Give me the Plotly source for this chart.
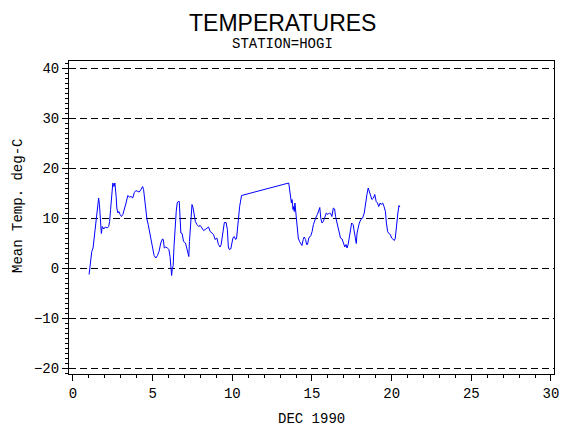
import plotly.graph_objects as go

# Mean temperature, station HOGI, December 1990
days = [
    1.01, 1.06, 1.10, 1.18, 1.26, 1.32, 1.37, 1.43, 1.47, 1.53, 1.61, 1.66, 1.68, 1.72,
    1.78, 1.84, 1.93, 2.03, 2.15, 2.24, 2.30, 2.36, 2.42, 2.50, 2.57, 2.63, 2.71, 2.75,
    2.82, 2.88, 2.96, 3.04, 3.13, 3.23, 3.33, 3.44, 3.54, 3.64, 3.75, 3.85, 3.95, 4.06,
    4.16, 4.27, 4.37, 4.43, 4.51, 4.58, 4.64, 4.72, 4.78, 4.89, 4.99, 5.09, 5.20, 5.30,
    5.40, 5.51, 5.61, 5.67, 5.73, 5.82, 5.92, 6.02, 6.09, 6.15, 6.19, 6.23, 6.29, 6.34,
    6.40, 6.48, 6.54, 6.60, 6.67, 6.71, 6.77, 6.85, 6.94, 7.06, 7.14, 7.23, 7.27, 7.31,
    7.39, 7.47, 7.54, 7.60, 7.68, 7.78, 7.89, 7.99, 8.10, 8.20, 8.30, 8.41, 8.51,
    8.61, 8.72, 8.82, 8.92, 9.03, 9.13, 9.23, 9.30, 9.38, 9.44, 9.50, 9.61, 9.69, 9.75,
    9.81, 9.90, 9.96, 10.04, 10.12, 10.21, 10.27, 10.33, 10.39, 10.46, 10.52, 10.58,
    13.54, 13.58, 13.64, 13.71, 13.75, 13.81, 13.85, 13.89, 13.93, 14.00, 14.06, 14.14,
    14.22, 14.31, 14.37, 14.45, 14.51, 14.60, 14.66, 14.72, 14.80, 14.93, 15.01, 15.09,
    15.18, 15.26, 15.34, 15.42, 15.49, 15.55, 15.63, 15.71, 15.80, 15.90, 16.00, 16.09,
    16.17, 16.25, 16.34, 16.42, 16.48, 16.58, 16.69, 16.79, 16.89, 17.00, 17.06, 17.14,
    17.20, 17.27, 17.33, 17.41, 17.49, 17.58, 17.66, 17.72, 17.78, 17.83, 17.89, 17.97,
    18.07, 18.18, 18.28, 18.36, 18.45, 18.53, 18.59, 18.67, 18.76, 18.86, 18.94, 19.03,
    19.11, 19.19, 19.28, 19.34, 19.44, 19.52, 19.61, 19.67, 19.75, 19.83, 19.92, 20.00,
    20.08, 20.17, 20.23, 20.31, 20.39, 20.46, 20.52,
]
temps = [
    -1.3, 0.3, 1.7, 3.3, 4.0, 5.7, 7.3, 9.8, 11.0, 13.0, 14.0, 12.7, 11.7, 10.0,
    6.9, 8.3, 7.8, 8.2, 8.0, 8.3, 9.3, 11.7, 14.3, 17.0, 16.3, 17.0, 14.3, 12.0,
    11.0, 11.3, 10.7, 10.3, 10.7, 11.7, 13.0, 14.5, 14.2, 14.3, 14.0, 15.1, 15.5, 15.3,
    15.2, 15.7, 16.3, 15.7, 13.3, 10.7, 9.8, 8.7, 7.7, 6.0, 4.0, 2.5, 2.0, 2.5,
    3.3, 5.0, 5.8, 5.7, 4.0, 4.2, 4.0, 3.7, 2.3, 0.7, -1.5, -0.3, 0.5, 4.3,
    8.3, 11.3, 13.0, 13.3, 13.3, 8.7, 7.0, 6.9, 5.3, 5.0, 4.0, 3.0, 2.3, 5.3,
    9.3, 12.7, 12.0, 10.3, 9.3, 8.7, 8.3, 8.5, 8.0, 7.5, 7.7, 8.0, 8.2,
    7.3, 6.9, 6.7, 5.7, 6.0, 4.7, 4.2, 4.7, 6.7, 8.7, 9.1, 9.1, 7.7, 4.2,
    3.7, 3.8, 4.7, 6.0, 6.3, 5.7, 6.0, 8.7, 10.0, 12.3, 14.0, 14.5,
    17.0, 16.0, 14.0, 13.0, 13.7, 11.7, 12.3, 11.3, 13.0, 10.0, 8.0, 6.0,
    5.3, 4.7, 4.5, 5.7, 6.2, 5.7, 4.7, 4.7, 6.0, 6.5, 7.3, 8.7,
    9.7, 10.2, 10.7, 11.3, 12.1, 10.0, 9.0, 9.3, 10.3, 11.0, 10.7, 11.0,
    10.9, 10.3, 12.0, 11.8, 10.3, 8.7, 7.3, 6.0, 5.8, 4.7, 4.2, 4.7,
    4.0, 4.7, 6.0, 7.3, 9.0, 8.7, 7.0, 5.7, 4.9, 7.0, 8.0, 9.0,
    9.7, 10.0, 11.0, 13.0, 14.7, 16.0, 15.3, 14.9, 13.7, 14.0, 14.7, 13.3,
    13.0, 12.3, 13.0, 12.7, 13.0, 12.3, 11.3, 9.0, 7.3, 6.9, 6.7, 6.0,
    5.7, 5.5, 6.0, 9.0, 11.0, 12.5, 12.2,
]

x_ticks = [0, 5, 10, 15, 20, 25, 30]
y_ticks = [-20, -10, 0, 10, 20, 30, 40]

title_text = "TEMPERATURES"
subtitle_text = "STATION=HOGI"
x_title = "DEC 1990"
y_title = "Mean Temp. deg-C"

mono = "Liberation Mono, DejaVu Sans Mono, monospace"

fig = go.Figure()
fig.add_trace(go.Scatter(
    x=days, y=temps, mode="lines",
    line=dict(color="#0000FF", width=1),
    showlegend=False, hoverinfo="skip",
))

axis_common = dict(
    showline=True, linecolor="black", linewidth=1, mirror=True,
    ticks="outside", ticklen=6, tickcolor="black", tickwidth=1,
    zeroline=False, tickfont=dict(family=mono, size=14, color="black"),
)

# page body has an 8px margin, so the figure is drawn 8px in from the corner
fig.update_layout(
    width=562, height=422,
    margin=dict(l=61, r=11, t=53, b=56),
    paper_bgcolor="white", plot_bgcolor="white",
    xaxis=dict(
        range=[-0.25, 30.19], tickmode="array", tickvals=x_ticks,
        showgrid=False,
        minor=dict(tickmode="linear", tick0=0, dtick=1, ticks="outside",
                   ticklen=3, tickcolor="black", showgrid=False),
        **axis_common,
    ),
    yaxis=dict(
        range=[-21.2, 41.4], tickmode="array", tickvals=y_ticks,
        showgrid=True, gridcolor="black", gridwidth=1, griddash="7px,4px",
        minor=dict(tickmode="linear", tick0=0, dtick=1, ticks="outside",
                   ticklen=3, tickcolor="black", showgrid=False),
        **axis_common,
    ),
    annotations=[
        dict(text=title_text, xref="paper", yref="paper", x=0.4408, y=1.1214,
             showarrow=False, xanchor="center", yanchor="middle",
             font=dict(family="Liberation Sans, Arial, sans-serif", size=23, color="black")),
        dict(text=subtitle_text, xref="paper", yref="paper", x=0.4408, y=1.0543,
             showarrow=False, xanchor="center", yanchor="middle",
             font=dict(family=mono, size=14, color="black")),
        dict(text=x_title, xref="paper", yref="paper", x=0.501, y=-0.1438,
             showarrow=False, xanchor="center", yanchor="middle",
             font=dict(family=mono, size=14, color="black")),
        dict(text=y_title, xref="paper", yref="paper", x=-0.1051, y=0.537,
             showarrow=False, xanchor="center", yanchor="middle", textangle=-90,
             font=dict(family=mono, size=14, color="black")),
    ],
)

fig.write_html("out.html")
